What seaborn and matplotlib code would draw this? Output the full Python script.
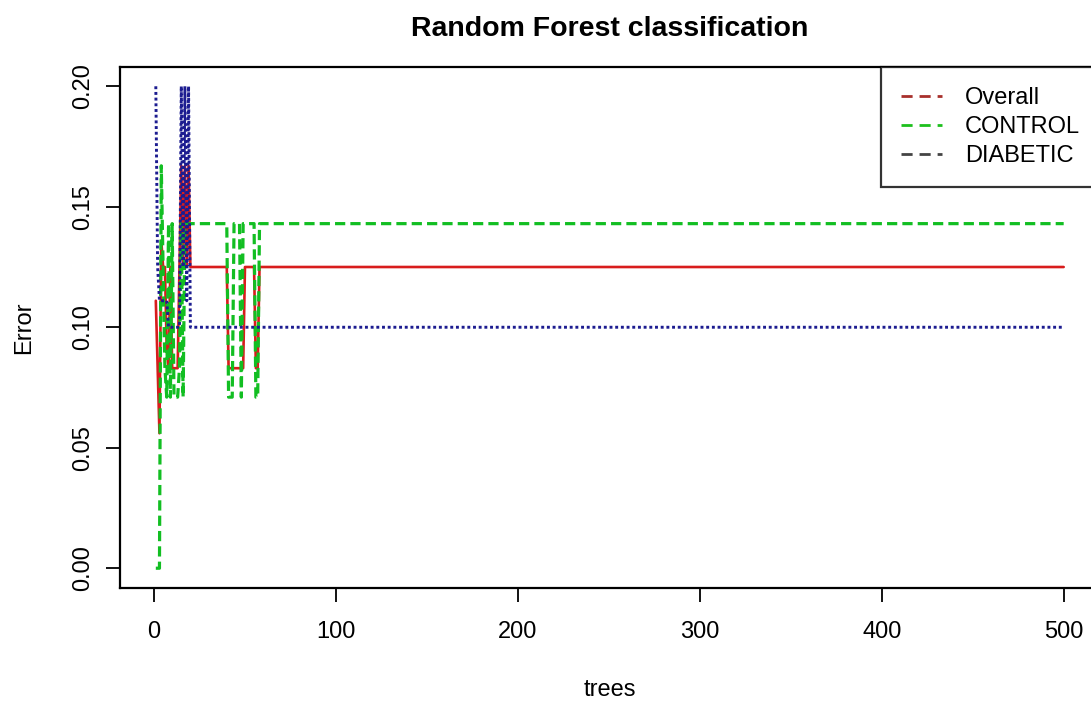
import matplotlib
matplotlib.use("Agg")
import matplotlib.pyplot as plt
from matplotlib.lines import Line2D
import numpy as np
import pandas as pd
import seaborn as sns

# Out-of-bag error rates of a 500-tree random forest, per number of trees
n_trees = 500
trees = list(range(1, n_trees + 1))

overall_head = [0.111, 0.083, 0.056, 0.136, 0.125, 0.125, 0.091, 0.083, 0.125, 0.083,
                0.083, 0.083, 0.083, 0.125, 0.167, 0.125, 0.167, 0.125, 0.167, 0.125,
                0.125, 0.125, 0.125, 0.125, 0.125, 0.125, 0.125, 0.125, 0.125, 0.125,
                0.125, 0.125, 0.125, 0.125, 0.125, 0.125, 0.125, 0.125, 0.125, 0.125,
                0.083, 0.083, 0.083, 0.083, 0.083, 0.083, 0.083, 0.083, 0.083, 0.125,
                0.125, 0.125, 0.125, 0.125, 0.125, 0.083, 0.083, 0.125, 0.125, 0.125]
control_head = [0.000, 0.000, 0.000, 0.167, 0.125, 0.083, 0.071, 0.143, 0.071, 0.143,
                0.071, 0.071, 0.071, 0.083, 0.143, 0.071, 0.143, 0.143, 0.143, 0.143,
                0.143, 0.143, 0.143, 0.143, 0.143, 0.143, 0.143, 0.143, 0.143, 0.143,
                0.143, 0.143, 0.143, 0.143, 0.143, 0.143, 0.143, 0.143, 0.143, 0.143,
                0.071, 0.071, 0.071, 0.143, 0.143, 0.143, 0.143, 0.071, 0.143, 0.143,
                0.143, 0.143, 0.143, 0.143, 0.143, 0.071, 0.071, 0.143, 0.143, 0.143]
diabetic_head = [0.200, 0.125, 0.111, 0.111, 0.111, 0.111, 0.111, 0.100, 0.100, 0.100,
                 0.100, 0.100, 0.100, 0.100, 0.200, 0.125, 0.200, 0.111, 0.200, 0.100,
                 0.100, 0.100, 0.100, 0.100, 0.100, 0.100, 0.100, 0.100, 0.100, 0.100,
                 0.100, 0.100, 0.100, 0.100, 0.100, 0.100, 0.100, 0.100, 0.100, 0.100,
                 0.100, 0.100, 0.100, 0.100, 0.100, 0.100, 0.100, 0.100, 0.100, 0.100,
                 0.100, 0.100, 0.100, 0.100, 0.100, 0.100, 0.100, 0.100, 0.100, 0.100]

# After ~60 trees every rate has settled
overall = overall_head + [0.125] * (n_trees - len(overall_head))
control = control_head + [0.143] * (n_trees - len(control_head))
diabetic = diabetic_head + [0.100] * (n_trees - len(diabetic_head))

series_names = ["Overall", "CONTROL", "DIABETIC"]
x_ticks = [0, 100, 200, 300, 400, 500]
y_ticks = [0.00, 0.05, 0.10, 0.15, 0.20]

df = pd.DataFrame({"trees": trees, "Overall": overall,
                   "CONTROL": control, "DIABETIC": diabetic})

sns.set_theme(style="white")
plt.rcParams["font.family"] = ["Liberation Sans", "DejaVu Sans"]
plt.rcParams["text.color"] = "black"
plt.rcParams["axes.labelcolor"] = "black"

W, H = 1091, 701
fig = plt.figure(figsize=(W / 100, H / 100), dpi=100)
left, right, top, bottom = 119.5, 1100, 67, 587.5
ax = fig.add_axes([left / W, 1 - bottom / H, (right - left) / W, (bottom - top) / H])

sns.lineplot(data=df, x="trees", y="Overall", ax=ax, color="#D81C1C",
             linewidth=1.9, linestyle="-")
sns.lineplot(data=df, x="trees", y="CONTROL", ax=ax, color="#12BE22",
             linewidth=2.3, linestyle=(0, (3.2, 1.6)))
sns.lineplot(data=df, x="trees", y="DIABETIC", ax=ax, color="#1C1C90",
             linewidth=2.1, linestyle=(0, (1.0, 0.95)))

# R-style 4% padding on both axes
ax.set_xlim(1 - 0.04 * 499, 500 + 0.04 * 499)
ax.set_ylim(-0.04 * 0.2, 0.2 + 0.04 * 0.2)
ax.set_xticks(x_ticks)
ax.set_xticklabels([str(v) for v in x_ticks])
ax.set_yticks(y_ticks)
ax.set_yticklabels([f"{v:.2f}" for v in y_ticks], rotation=90, va="center")

ax.tick_params(axis="both", direction="out", length=10, width=1.3,
               labelsize=17, colors="black", bottom=True, left=True)
ax.tick_params(axis="x", pad=14)
ax.tick_params(axis="y", pad=8.6)
for s in ax.spines.values():
    s.set_linewidth(1.6)
    s.set_color("black")

ax.set_xlabel("trees", fontsize=17, labelpad=26)
ax.set_ylabel("Error", fontsize=17, labelpad=26)
ax.set_title("Random Forest classification", fontsize=20.5, fontweight="bold", pad=22)

handles = [Line2D([], [], color=c, linewidth=2, linestyle=(0, (4, 2.5)))
           for c in ["#A8302C", "#1DC01D", "#444444"]]
leg = ax.legend(handles, series_names, loc="upper right", bbox_to_anchor=(1, 1),
                borderaxespad=0, frameon=True, fancybox=False, fontsize=17,
                handlelength=1.75, handletextpad=0.95, labelspacing=0.3,
                borderpad=0.85)
leg.get_frame().set_edgecolor("black")
leg.get_frame().set_linewidth(1.6)
for t in leg.get_texts():
    t.set_color("black")

fig.savefig("out.png", dpi=100)
